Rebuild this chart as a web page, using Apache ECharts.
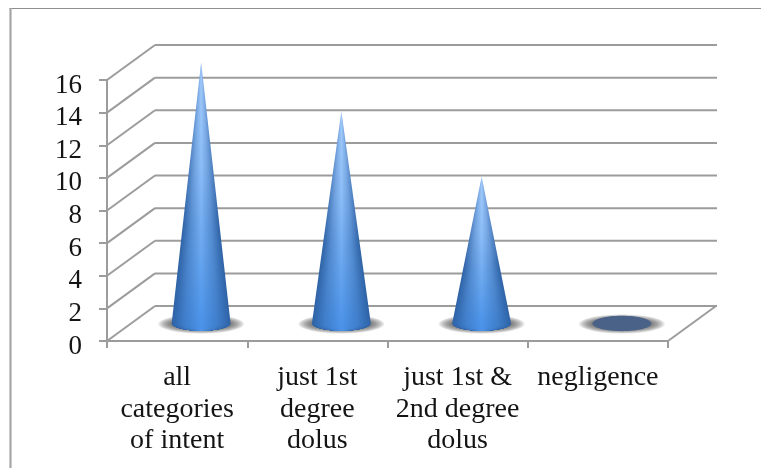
<!DOCTYPE html>
<html>
<head>
<meta charset="utf-8">
<style>html,body{margin:0;padding:0;background:#fff;overflow:hidden}#chart{width:761px;height:468px}</style>
<script src="https://cdn.jsdelivr.net/npm/echarts@6/dist/echarts.min.js"></script>
</head>
<body>
<div id="chart"></div>
<script>
// Counts per category of intent
const categories = ['all\ncategories\nof intent', 'just 1st\ndegree\ndolus', 'just 1st &\n2nd degree\ndolus', 'negligence'];
const counts = [16, 13, 9, 0];
const tickValues = [0, 2, 4, 6, 8, 10, 12, 14, 16];

// Oblique projection of the 3D box: depth of the back wall in pixels
const DEPTH_X = 48, DEPTH_Y = -35;
const GRID_COLOR = '#9c9c9c';
const TEXT_COLOR = '#141414';
const FONT = '"Liberation Serif", serif';

const chart = echarts.init(document.getElementById('chart'), null, { renderer: 'canvas' });

function lerp(a, b, t) { return a + (b - a) * t; }
function mix(c1, c2, t) {
  return 'rgb(' + [0, 1, 2].map(i => Math.round(lerp(c1[i], c2[i], t))).join(',') + ')';
}
function rgbOf(str) { return str.match(/\d+/g).map(Number); }

// Back wall rules, side wall diagonals and the right floor edge
function renderFrame(params, api) {
  const cs = params.coordSys;
  const left = cs.x, right = cs.x + cs.width;
  const children = [];
  const line = (x1, y1, x2, y2) => children.push({
    type: 'line', shape: { x1, y1, x2, y2 },
    style: { stroke: GRID_COLOR, lineWidth: 2, fill: null }
  });
  tickValues.forEach(v => {
    const y = api.coord([0, v])[1];
    line(left, y, left + DEPTH_X, y + DEPTH_Y);
    line(left + DEPTH_X, y + DEPTH_Y, right + DEPTH_X + 1, y + DEPTH_Y);
  });
  const y0 = api.coord([0, 0])[1];
  line(right, y0, right + DEPTH_X, y0 + DEPTH_Y);
  return { type: 'group', children };
}

// One cone: feathered floor shadow, then the body drawn row by row so the shading narrows to the apex
function renderCone(params, api) {
  const idx = api.value(0), val = api.value(1);
  const base = api.coord([idx, 0]);
  const tip = api.coord([idx, val]);
  const bandW = api.size([1, 0])[0];
  const cx = base[0] + DEPTH_X / 2;
  const cy = base[1] + DEPTH_Y / 2;
  const topY = tip[1] + DEPTH_Y / 2;
  const R = bandW * 0.21, ry = R * 0.26;
  const children = [];
  const layers = 14;
  for (let i = 0; i < layers; i++) {
    const k = i / (layers - 1);
    children.push({
      type: 'ellipse',
      shape: { cx, cy: cy + 0.5, rx: lerp(R * 1.46, R * 0.85, k), ry: lerp(ry * 1.25, ry * 0.5, k) },
      style: { fill: 'rgba(70,70,70,0.1)' }
    });
  }
  if (val <= 0) {
    children.push({ type: 'ellipse', shape: { cx, cy, rx: R, ry }, style: { fill: '#4a6288' } });
    return { type: 'group', children };
  }
  const h = cy - topY;
  const edgeTop = [130, 175, 235], edgeBot = [46, 98, 165];
  const midTop = [165, 205, 250], midUp = [140, 190, 248], midBot = [76, 148, 234];
  for (let y = Math.floor(topY); y < cy + ry; y++) {
    const yc = y + 0.5;
    let w;
    if (yc <= cy) w = R * Math.max(0, yc - topY) / h;
    else w = R * Math.sqrt(Math.max(0, 1 - Math.pow((yc - cy) / ry, 2)));
    if (w < 0.05) continue;
    const t = Math.min(1, Math.max(0, (yc - topY) / h));
    const mid = t < 0.4 ? mix(midTop, midUp, t / 0.4) : mix(midUp, midBot, (t - 0.4) / 0.6);
    const edge = mix(edgeTop, edgeBot, Math.min(1, t * 1.6));
    const side = mix(rgbOf(edge), rgbOf(mid), 0.55);
    children.push({
      type: 'rect',
      shape: { x: cx - w, y, width: 2 * w, height: 1.02 },
      style: {
        fill: new echarts.graphic.LinearGradient(0, 0, 1, 0, [
          { offset: 0, color: edge },
          { offset: 0.22, color: side },
          { offset: 0.5, color: mid },
          { offset: 0.78, color: side },
          { offset: 1, color: edge }
        ])
      }
    });
  }
  return { type: 'group', children };
}

chart.setOption({
  animation: false,
  backgroundColor: '#fff',
  graphic: [
    { type: 'line', silent: true, shape: { x1: 9.5, y1: 8.5, x2: 761, y2: 8.5 },
      style: { stroke: '#8f8f8f', lineWidth: 1.2 } },
    { type: 'line', silent: true, shape: { x1: 10.5, y1: 8, x2: 10.5, y2: 468 },
      style: { stroke: '#a6a6a6', lineWidth: 2.2 } }
  ],
  grid: { left: 107, top: 80, width: 561, height: 261 },
  xAxis: {
    type: 'category',
    data: categories,
    boundaryGap: true,
    axisLine: { lineStyle: { color: GRID_COLOR, width: 2 } },
    axisTick: { show: true, alignWithLabel: false, length: 7, lineStyle: { color: GRID_COLOR, width: 2 } },
    axisLabel: { color: TEXT_COLOR, fontFamily: FONT, fontSize: 28, lineHeight: 31.5, margin: 21, interval: 0 }
  },
  yAxis: {
    type: 'value',
    min: 0, max: 16, interval: 2,
    axisLine: { show: true, lineStyle: { color: GRID_COLOR, width: 2 } },
    axisTick: { show: true, length: 8, lineStyle: { color: GRID_COLOR, width: 2 } },
    axisLabel: {
      color: TEXT_COLOR, fontFamily: FONT, fontSize: 27, margin: 25,
      verticalAlign: 'top', lineHeight: 11, showMinLabel: true, showMaxLabel: true
    },
    splitLine: { show: false }
  },
  series: [
    {
      type: 'custom', silent: true, z: 1,
      renderItem: renderFrame,
      data: [[0, 0]],
      encode: { x: 0, y: 1 }
    },
    {
      type: 'custom', silent: true, z: 2,
      renderItem: renderCone,
      data: counts.map((v, i) => [i, v]),
      encode: { x: 0, y: 1 }
    }
  ]
});
</script>
</body>
</html>
